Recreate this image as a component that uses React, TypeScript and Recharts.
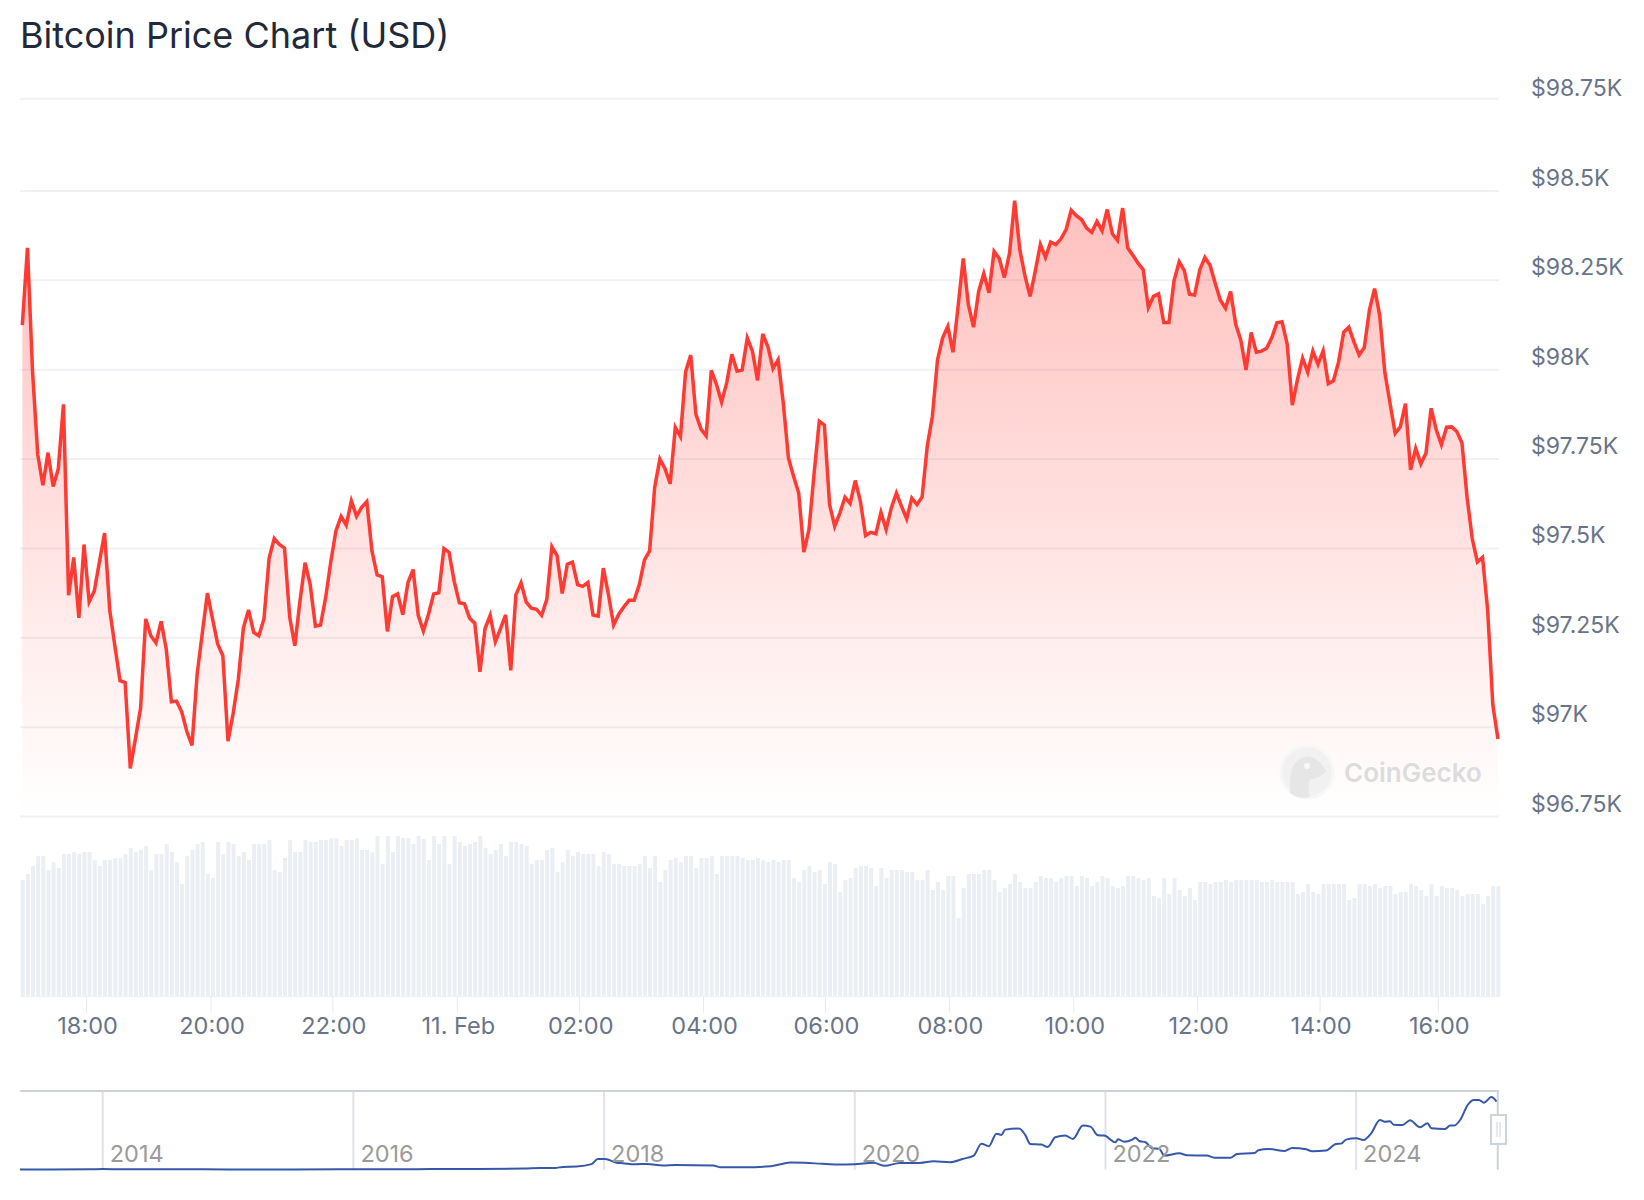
import React from 'react';
import { AreaChart, Area, BarChart, Bar, LineChart, Line, XAxis, YAxis, CartesianGrid, ReferenceLine } from 'recharts';

// price in USD, one sample about every 5 minutes
const prices = [
  98125, 98341, 97993, 97763, 97677, 97768, 97673, 97723, 97903, 97369,
  97475, 97306, 97511, 97351, 97381, 97463, 97543, 97328, 97228, 97130,
  97125, 96885, 96968, 97053, 97303, 97256, 97236, 97296, 97218, 97071,
  97073, 97043, 96988, 96949, 97148, 97263, 97375, 97303, 97233, 97200,
  96961, 97038, 97133, 97278, 97328, 97265, 97256, 97303, 97473, 97528,
  97511, 97501, 97308, 97228, 97353, 97460, 97398, 97283, 97286, 97363,
  97463, 97550, 97590, 97565, 97633, 97590, 97615, 97631, 97493, 97426,
  97421, 97268, 97365, 97373, 97315, 97404, 97441, 97313, 97269, 97316,
  97373, 97376, 97500, 97489, 97408, 97348, 97345, 97305, 97291, 97155,
  97276, 97313, 97239, 97276, 97314, 97159, 97371, 97404, 97350, 97333,
  97330, 97313, 97357, 97505, 97480, 97374, 97456, 97462, 97399, 97394,
  97405, 97314, 97311, 97445, 97371, 97286, 97316, 97337, 97355, 97355,
  97399, 97468, 97493, 97672, 97750, 97723, 97681, 97839, 97813, 97994,
  98041, 97876, 97834, 97815, 97998, 97959, 97909, 97964, 98043, 97996,
  97999, 98089, 98052, 97970, 98100, 98065, 98003, 98028, 97907, 97753,
  97702, 97655, 97490, 97553, 97711, 97856, 97845, 97623, 97562, 97599,
  97643, 97626, 97690, 97632, 97536, 97545, 97541, 97601, 97553, 97613,
  97655, 97618, 97583, 97641, 97623, 97644, 97786, 97870, 98028, 98089,
  98121, 98049, 98177, 98311, 98182, 98119, 98219, 98269, 98215, 98331,
  98311, 98258, 98326, 98473, 98336, 98263, 98205, 98275, 98350, 98314,
  98357, 98350, 98366, 98392, 98446, 98431, 98420, 98396, 98384, 98415,
  98389, 98448, 98380, 98362, 98452, 98340, 98320, 98298, 98280, 98174,
  98205, 98212, 98132, 98132, 98249, 98302, 98277, 98211, 98209, 98279,
  98314, 98292, 98242, 98195, 98172, 98219, 98127, 98082, 97999, 98104,
  98049, 98052, 98060, 98089, 98131, 98134, 98072, 97901, 97972, 98032,
  97993, 98052, 98015, 98053, 97961, 97969, 98022, 98105, 98119, 98077,
  98041, 98062, 98167, 98227, 98152, 97992, 97907, 97822, 97840, 97905,
  97720, 97780, 97737, 97767, 97892, 97832, 97790, 97839, 97840, 97827,
  97795, 97642, 97527, 97462, 97475, 97327, 97062, 96967,
];

// trading volume per sample, relative scale
const volumes = [
  350, 368, 392, 422, 422, 380, 403, 386, 428, 428,
  433, 428, 434, 434, 409, 392, 410, 410, 415, 415,
  428, 446, 434, 440, 452, 380, 428, 428, 458, 434,
  403, 338, 422, 440, 458, 464, 368, 356, 464, 428,
  464, 458, 422, 434, 410, 458, 458, 458, 470, 380,
  374, 416, 470, 434, 434, 470, 464, 464, 470, 470,
  475, 475, 452, 470, 470, 475, 440, 440, 433, 482,
  398, 482, 434, 482, 476, 476, 458, 482, 474, 410,
  482, 458, 482, 398, 482, 464, 452, 458, 464, 482,
  446, 428, 440, 458, 422, 464, 464, 458, 452, 398,
  410, 410, 440, 446, 374, 403, 440, 422, 434, 428,
  428, 428, 392, 434, 428, 398, 398, 392, 392, 392,
  398, 422, 386, 422, 344, 380, 410, 416, 403, 422,
  422, 386, 416, 416, 422, 368, 422, 422, 422, 422,
  416, 410, 410, 415, 409, 404, 410, 404, 410, 410,
  356, 344, 380, 392, 374, 380, 338, 404, 398, 314,
  350, 356, 386, 392, 392, 386, 332, 386, 356, 380,
  380, 380, 374, 374, 350, 350, 380, 320, 344, 320,
  362, 362, 236, 326, 368, 368, 368, 380, 380, 350,
  314, 326, 338, 368, 344, 326, 326, 344, 362, 356,
  356, 344, 356, 362, 362, 332, 362, 356, 332, 344,
  362, 356, 332, 326, 332, 362, 362, 356, 350, 356,
  302, 296, 356, 308, 356, 320, 302, 326, 290, 344,
  344, 338, 344, 344, 350, 344, 350, 350, 350, 350,
  350, 344, 344, 350, 344, 344, 344, 344, 308, 314,
  338, 314, 308, 338, 338, 338, 338, 338, 290, 296,
  338, 338, 332, 338, 326, 332, 332, 308, 314, 314,
  338, 332, 320, 302, 338, 302, 332, 326, 326, 320,
  302, 308, 308, 308, 278, 302, 332, 332,
];

// the top gridline of the picture sits a little above the even spacing
const priceTicks = [96750, 97000, 97250, 97500, 97750, 98000, 98250, 98500, 98758];
const priceLabels = ['$96.75K', '$97K', '$97.25K', '$97.5K', '$97.75K', '$98K', '$98.25K', '$98.5K', '$98.75K'];

const timeTicks = [12.5, 36.7, 60.4, 84.6, 108.4, 132.5, 156.2, 180.3, 204.5, 228.6, 252.4, 275.4];
const timeLabels = ['18:00', '20:00', '22:00', '11. Feb', '02:00', '04:00', '06:00', '08:00', '10:00', '12:00', '14:00', '16:00'];

// overview series: decimal year and price
const navYears = [
  2013.34, 2013.9, 2014.0, 2014.3, 2014.6, 2015, 2015.5, 2016, 2016.5, 2017, 2017.36, 2017.49, 2017.61, 2017.67, 2017.78, 2017.9,
  2017.95, 2018.01, 2018.1, 2018.15, 2018.24, 2018.34, 2018.47, 2018.57, 2018.87, 2018.93, 2019.12, 2019.33, 2019.41, 2019.49, 2019.6, 2019.74,
  2019.86, 2020, 2020.15, 2020.24, 2020.36, 2020.52, 2020.63, 2020.76, 2020.86, 2020.95, 2021.01, 2021.07, 2021.13, 2021.17, 2021.2, 2021.31,
  2021.36, 2021.4, 2021.49, 2021.54, 2021.6, 2021.68, 2021.74, 2021.82, 2021.88, 2021.94, 2021.99, 2022.08, 2022.1, 2022.15, 2022.21, 2022.24,
  2022.27, 2022.32, 2022.37, 2022.43, 2022.47, 2022.59, 2022.65, 2022.81, 2022.87, 2023.0, 2023.05, 2023.19, 2023.22, 2023.3, 2023.43, 2023.49,
  2023.6, 2023.65, 2023.76, 2023.84, 2023.88, 2023.92, 2024.0, 2024.06, 2024.12, 2024.19, 2024.23, 2024.27, 2024.3, 2024.37, 2024.43, 2024.51,
  2024.57, 2024.6, 2024.71, 2024.75, 2024.78, 2024.83, 2024.89, 2024.94, 2024.98, 2025.02, 2025.08, 2025.12,
];
const navPrices = [
  130, 400, 700, 500, 600, 300, 250, 430, 650, 900, 1500, 2500, 2500, 4000, 4500, 8000,
  15700, 15700, 10100, 9500, 7900, 8400, 6200, 6700, 6200, 3400, 3500, 5000, 8000, 10500, 10000, 8500,
  7500, 8000, 10000, 5500, 9800, 9800, 12250, 10800, 15700, 20600, 38200, 34300, 52900, 51000, 58800, 60300,
  51000, 37700, 36750, 33300, 47500, 50000, 45100, 64700, 63200, 50500, 50000, 40200, 44600, 41000, 43600, 47000,
  42100, 40200, 31400, 30400, 20600, 24000, 21000, 20600, 17600, 17600, 23000, 24500, 28400, 30400, 27400, 31800,
  29900, 27000, 28000, 37700, 38200, 44100, 46000, 43600, 53400, 73000, 70500, 71000, 66100, 65700, 72500, 62200,
  68100, 60800, 59800, 64700, 64700, 73000, 95000, 102400, 102400, 98500, 106800, 100000,
];
const navTicks = [2014, 2016, 2018, 2020, 2022, 2024];

const priceRows = prices.map((price, slot) => ({ slot, price }));
const volumeRows = volumes.map((volume, slot) => ({ slot, volume }));
const navRows = navYears.map((year, i) => ({ year, price: navPrices[i] }));

const FONT = 'Inter, sans-serif';
const slotDomain: [number, number] = [-0.45, 287.2];

const PriceTick = ({ x, y, payload }: any) => (
  <text x={x + 24} y={y - (payload.value === 98758 ? 11 : 13)} dominantBaseline="central" fontFamily={FONT} fontSize={23} fill="#677489">
    {priceLabels[priceTicks.indexOf(payload.value)]}
  </text>
);

const TimeTick = ({ x, y, payload }: any) => (
  <text x={x + 1} y={y + 11} textAnchor="middle" dominantBaseline="central" fontFamily={FONT} fontSize={23.5} fill="#677489">
    {timeLabels[timeTicks.indexOf(payload.value)]}
  </text>
);

const NavTick = ({ x, y, payload }: any) => (
  <text x={x + 7} y={y + 64} dominantBaseline="central" fontFamily={FONT} fontSize={23.5} fill="#9a9a9a">
    {payload.value}
  </text>
);

const Watermark = () => (
  <svg width={220} height={70} style={{ position: 'absolute', left: 1270, top: 737 }}>
    <circle cx={37} cy={35} r={26} fill="#f1f1f1" stroke="#f7f7f7" strokeWidth={3} />
    <path d="M20 56 C20 40 20 22 36 20 C44 18 52 26 56 34 C52 40 44 42 40 42 C38 48 38 54 40 60 C32 62 26 60 20 56 Z" fill="#e6e6e6" />
    <circle cx={37} cy={29} r={3} fill="#f8f8f8" />
    <text x={74} y={35} dominantBaseline="central" fontFamily={FONT} fontSize={26} fontWeight={600} fill="#dcdcdc">CoinGecko</text>
  </svg>
);

const NavHandle = () => (
  <svg width={18} height={32} style={{ position: 'absolute', left: 1490, top: 1114 }}>
    <rect x={1} y={1} width={15} height={29} fill="#fff" stroke="#ccd3da" strokeWidth={2} />
    <line x1={7} y1={8} x2={7} y2={23} stroke="#ccd3da" />
    <line x1={10} y1={8} x2={10} y2={23} stroke="#ccd3da" />
  </svg>
);

export default function App() {
  return (
    <div style={{ position: 'absolute', left: 0, top: 0, width: 1644, height: 1200, background: '#fff', overflow: 'hidden' }}>
      <div style={{ position: 'absolute', left: 20, top: 12, fontFamily: FONT, fontSize: 36, lineHeight: '46px', color: '#1f2a3c' }}>
        Bitcoin Price Chart (USD)
      </div>

      <div style={{ position: 'absolute', left: 0, top: 0 }}>
        <AreaChart width={1644} height={830} data={priceRows} margin={{ top: 98.7, right: 0, bottom: 13.4, left: 20 }}>
          <defs>
            <linearGradient id="priceFill" x1="0" y1="0" x2="0" y2="1">
              <stop offset="0%" stopColor="#ff3a33" stopOpacity={0.32} />
              <stop offset="100%" stopColor="#ff3a33" stopOpacity={0} />
            </linearGradient>
          </defs>
          <CartesianGrid vertical={false} stroke="#eff1f4" strokeWidth={2} />
          <XAxis dataKey="slot" type="number" domain={slotDomain} hide />
          <YAxis orientation="right" width={145} domain={[96750, 98758]} ticks={priceTicks} interval={0}
            axisLine={false} tickLine={false} tick={<PriceTick />} />
          <Area type="linear" dataKey="price" stroke="#ff3a33" strokeWidth={3.5} fill="url(#priceFill)" fillOpacity={1} dot={false} isAnimationActive={false} />
        </AreaChart>
      </div>

      <div style={{ position: 'absolute', left: 0, top: 830 }}>
        <BarChart width={1644} height={220} data={volumeRows} margin={{ top: 0, right: 145, bottom: 0, left: 20 }}>
          <XAxis dataKey="slot" type="number" domain={slotDomain} ticks={timeTicks} interval={0} height={53.3}
            axisLine={{ stroke: '#eef1f5' }} tickLine={{ stroke: '#e6e9ee' }} tickSize={16} tick={<TimeTick />} />
          <YAxis hide domain={[0, 500]} />
          <Bar dataKey="volume" fill="#ebeff3" barSize={4} isAnimationActive={false} />
        </BarChart>
      </div>

      <div style={{ position: 'absolute', left: 0, top: 1089 }}>
        <LineChart width={1644} height={86} data={navRows} margin={{ top: 1, right: 145, bottom: 5.4, left: 20 }}>
          <XAxis dataKey="year" type="number" orientation="top" domain={[2013.34, 2025.14]} ticks={navTicks} interval={0} height={1}
            axisLine={{ stroke: '#ccd3da', strokeWidth: 2 }} tickLine={false} tickSize={0} tick={<NavTick />} />
          <YAxis hide domain={[0, 115600]} />
          {navTicks.map((year) => <ReferenceLine key={year} x={year} stroke="#dfe3e8" strokeWidth={2} />)}
          <ReferenceLine x={2025.13} stroke="#ccd3da" strokeWidth={2} />
          <Line type="monotone" dataKey="price" stroke="#3558a8" strokeWidth={2} dot={false} isAnimationActive={false} />
        </LineChart>
      </div>

      <Watermark />
      <NavHandle />
    </div>
  );
}
